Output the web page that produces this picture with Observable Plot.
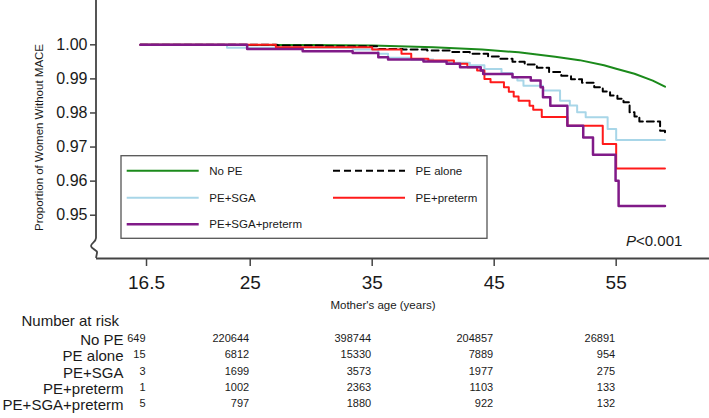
<!DOCTYPE html>
<html><head><meta charset="utf-8">
<script src="https://cdn.jsdelivr.net/npm/d3@7"></script>
<script src="https://cdn.jsdelivr.net/npm/@observablehq/plot@0.6"></script>
<style>
html,body{margin:0;padding:0;background:#fff;}
#chart svg{display:block;}
</style></head><body><div id="chart"></div>
<script>
// ---- data ----
const seriesNames = ["No PE", "PE alone", "PE+SGA", "PE+preterm", "PE+SGA+preterm"];
const seriesColors = ["#1b8a1b", "#000000", "#a8d6e8", "#ff1a1a", "#801a88"];

// [age, proportion without MACE]
const noPE = [[16,1],[30,0.99995],[35,0.9998],[40,0.9993],[44,0.9986],[47,0.9978],[50,0.9965],[52,0.9955],[54,0.9940],[55,0.9930],[56.5,0.9915],[58,0.9895],[59,0.9877]];
const peAlone = [[16,1],[27.2,0.9998],[31,0.9996],[35.4,0.9988],[37.5,0.9986],[39.5,0.9983],[41.5,0.9979],[43,0.9974],[44.5,0.9966],[45.5,0.9959],[46.5,0.9950],[47.5,0.9942],[48.5,0.9933],[49.5,0.9920],[50.5,0.9909],[51.3,0.9899],[52.2,0.9889],[53.2,0.98753],[53.9,0.9863],[54.5,0.98509],[55.1,0.9842],[55.6,0.98312],[56.1,0.98018],[56.5,0.9790],[56.9,0.97753],[58.6,0.9748],[59,0.9743]];
const peSGA = [[16,1],[23.1,0.9991],[33.4,0.9986],[35.5,0.9974],[36.3,0.9962],[38.2,0.9957],[40,0.9952],[41.3,0.9947],[43,0.994],[44.2,0.9929],[45.6,0.9917],[46.5,0.9904],[46.9,0.9895],[47.4,0.988],[49,0.98656],[50.4,0.98362],[51.2,0.9822],[51.8,0.98018],[52.5,0.97871],[54.3,0.97529],[55,0.97206],[59,0.97206]];
const pePreterm = [[16,1],[27.1,0.9993],[35,0.99862],[37.4,0.99735],[38.2,0.99588],[39.6,0.99538],[41.7,0.99441],[42.8,0.99341],[43.6,0.99244],[44.2,0.9900],[44.7,0.9890],[45.8,0.98753],[46.2,0.9862],[46.6,0.9848],[47.0,0.98362],[47.9,0.98215],[48.2,0.98097],[48.9,0.97880],[51.0,0.97626],[53.9,0.97088],[55.0,0.96371],[59,0.96371]];
const peSGAPreterm = [[16,1],[24.75,0.9988],[29.3,0.9981],[33.4,0.9976],[35.5,0.99635],[36.3,0.99568],[39.2,0.99509],[41.1,0.99441],[42.2,0.99341],[43.9,0.99244],[44.1,0.99147],[46.5,0.9905],[48.0,0.9895],[48.8,0.98753],[49.0,0.98459],[49.6,0.98215],[51.0,0.97626],[52.3,0.97282],[53.1,0.96774],[54.95,0.96009],[55.2,0.95274],[59,0.95274]];

const xTicks = [16.5, 25, 35, 45, 55];
const yTicks = [0.95, 0.96, 0.97, 0.98, 0.99, 1.00];

const riskTitle = "Number at risk";
const riskNoPE = [649, 220644, 398744, 204857, 26891];
const riskPEalone = [15, 6812, 15330, 7889, 954];
const riskPESGA = [3, 1699, 3573, 1977, 275];
const riskPEpreterm = [1, 1002, 2363, 1103, 133];
const riskPESGApreterm = [5, 797, 1880, 922, 132];

const xLabel = "Mother's age (years)";
const yLabel = "Proportion of Women Without MACE";

// ---- layout ----
const W = 709, H = 418;
const mL = 96, mB = 160;
const xDomain = [12.4, 62.65];
const yDomain = [0.9373, 1.013];
const font = "'Liberation Sans', Arial, Helvetica, sans-serif";
const axisColor = "#444";
const textColor = "#1a1a1a";

const curves = [noPE, peAlone, peSGA, pePreterm, peSGAPreterm];
const widths = [2, 2, 2, 2, 2.5];
const riskRows = [riskNoPE, riskPEalone, riskPESGA, riskPEpreterm, riskPESGApreterm];
const labelDy = [86, 102.5, 119, 135.5, 151.5];

const marks = [];
curves.forEach((pts, i) => {
  marks.push(Plot.line(pts.map(([age, s]) => ({age, s})), {
    x: "age", y: "s",
    stroke: seriesColors[i],
    strokeWidth: widths[i],
    strokeDasharray: i === 1 ? "7,4" : null,
    curve: i === 0 ? "linear" : "step-after"
  }));
});
marks.push(Plot.ruleY([yDomain[0]], {stroke: axisColor, strokeWidth: 1.8}));
marks.push(Plot.axisX({ticks: xTicks, tickFormat: d => String(d), tickSize: 8, tickPadding: 9,
  fontSize: 19, label: null, stroke: axisColor, strokeWidth: 1.5, fill: textColor}));
marks.push(Plot.axisY({ticks: yTicks, tickFormat: ".2f", tickSize: 6, tickPadding: 3,
  fontSize: 16, label: null, stroke: axisColor, strokeWidth: 1.5, fill: textColor}));
marks.push(Plot.text([xLabel], {frameAnchor: "bottom", textAnchor: "middle", dx: -20, dy: 50, fontSize: 11.5, fill: textColor}));
marks.push(Plot.text([yLabel], {frameAnchor: "left", textAnchor: "middle", rotate: -90, dx: -57, dy: 8, fontSize: 11.5, fill: textColor}));
marks.push(Plot.text([riskTitle], {frameAnchor: "bottom-left", dx: -75, dy: 67, textAnchor: "start", fontSize: 15, fill: textColor}));
riskRows.forEach((row, i) => {
  marks.push(Plot.text([seriesNames[i]], {frameAnchor: "bottom-left", dx: 27, dy: labelDy[i], textAnchor: "end", fontSize: 15, fill: textColor}));
  marks.push(Plot.text(row.map((n, j) => ({age: xTicks[j], n})), {
    x: "age", text: d => String(d.n), frameAnchor: "bottom", dx: -1, dy: labelDy[i] - 3,
    textAnchor: "end", fontSize: 11, fill: textColor}));
});

const chart = Plot.plot({
  width: W, height: H,
  marginTop: 0, marginRight: 0, marginBottom: mB, marginLeft: mL,
  x: {domain: xDomain},
  y: {domain: yDomain},
  style: {fontFamily: font, background: "#fff", color: textColor},
  marks
});

// ---- decorations drawn with the scales ----
const svg = d3.select(chart);
const sx = chart.scale("x"), sy = chart.scale("y");
const x0 = sx.apply(xDomain[0]);
const yb = sy.apply(yDomain[0]);
const yt = sy.apply(yDomain[1]);
// y axis line with break
svg.append("path")
  .attr("d", `M${x0},${yt} L${x0},${yb - 20} C${x0},${yb - 16} ${x0 - 5},${yb - 15} ${x0 - 5},${yb - 12} C${x0 - 5},${yb - 9} ${x0 + 2},${yb - 8} ${x0 + 1},${yb - 5} L${x0},${yb}`)
  .attr("fill", "none").attr("stroke", axisColor).attr("stroke-width", 1.8);

// legend
const lgX = x0 + 25, lgY = 155.7, lgW = 366, lgH = 82.6;
const lg = svg.append("g").attr("font-family", font).attr("text-anchor", "start");
lg.append("rect").attr("x", lgX).attr("y", lgY).attr("width", lgW).attr("height", lgH)
  .attr("fill", "#fff").attr("stroke", "#555").attr("stroke-width", 1.3);
const colX = [lgX + 5.7, lgX + 212];
const rowY = [lgY + 15, lgY + 42, lgY + 68.6];
seriesNames.forEach((name, i) => {
  const cx = colX[i % 2], cy = rowY[Math.floor(i / 2)];
  lg.append("line").attr("x1", cx).attr("x2", cx + 72).attr("y1", cy).attr("y2", cy)
    .attr("stroke", seriesColors[i]).attr("stroke-width", widths[i])
    .attr("stroke-dasharray", i === 1 ? "7,4" : null);
  lg.append("text").attr("x", cx + 82.6).attr("y", cy).attr("dy", "0.35em")
    .attr("text-anchor", "start")
    .attr("font-size", 11.5).attr("fill", textColor).text(name);
});

// p-value
const pt = svg.append("text").attr("x", W - 83).attr("y", yb - 17.3).attr("dy", "0.35em")
  .attr("text-anchor", "start")
  .attr("font-family", font).attr("font-size", 15).attr("fill", textColor);
pt.append("tspan").attr("font-style", "italic").text("P");
pt.append("tspan").text("<0.001");

document.getElementById("chart").appendChild(chart);
</script>
</body></html>
